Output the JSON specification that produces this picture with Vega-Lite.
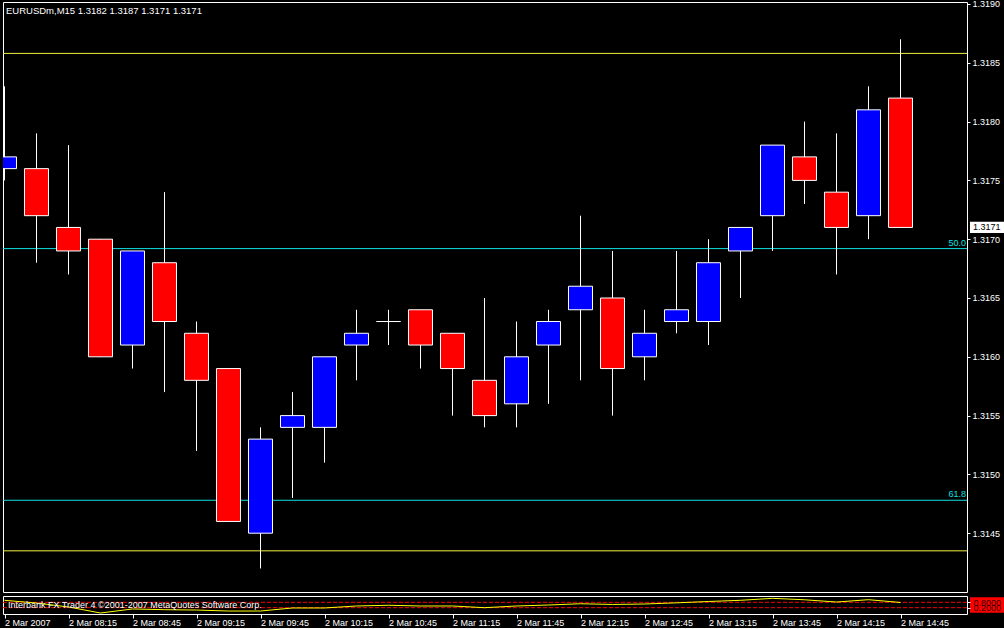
{
  "$schema": "https://vega.github.io/schema/vega-lite/v6.json",
  "background": "#000000",
  "padding": {"left": 2, "top": -1, "right": 0, "bottom": 0},
  "autosize": {"type": "pad"},
  "config": {
    "view": {"stroke": "#ffffff", "strokeWidth": 1},
    "font": "Liberation Sans",
    "axis": {"domain": false, "grid": false, "labelColor": "#ffffff", "tickColor": "#ffffff", "labelFont": "Liberation Sans", "labelFontSize": 9, "title": null},
    "concat": {"spacing": 2}
  },
  "datasets": {
    "candles": [
      {"time": "2007-03-02T07:45:00Z", "open": 1.3176, "high": 1.3183, "low": 1.3175, "close": 1.3177, "osc": 1.02},
      {"time": "2007-03-02T08:00:00Z", "open": 1.3176, "high": 1.3179, "low": 1.3168, "close": 1.3172, "osc": 0.72},
      {"time": "2007-03-02T08:15:00Z", "open": 1.3171, "high": 1.3178, "low": 1.3167, "close": 1.3169, "osc": 0.28},
      {"time": "2007-03-02T08:30:00Z", "open": 1.3170, "high": 1.3170, "low": 1.3160, "close": 1.3160, "osc": -0.39},
      {"time": "2007-03-02T08:45:00Z", "open": 1.3161, "high": 1.3169, "low": 1.3159, "close": 1.3169, "osc": 0.06},
      {"time": "2007-03-02T09:00:00Z", "open": 1.3168, "high": 1.3174, "low": 1.3157, "close": 1.3163, "osc": -0.02},
      {"time": "2007-03-02T09:15:00Z", "open": 1.3162, "high": 1.3163, "low": 1.3152, "close": 1.3158, "osc": -0.06},
      {"time": "2007-03-02T09:30:00Z", "open": 1.3159, "high": 1.3159, "low": 1.3146, "close": 1.3146, "osc": -0.17},
      {"time": "2007-03-02T09:45:00Z", "open": 1.3145, "high": 1.3154, "low": 1.3142, "close": 1.3153, "osc": -0.17},
      {"time": "2007-03-02T10:00:00Z", "open": 1.3154, "high": 1.3157, "low": 1.3148, "close": 1.3155, "osc": 0.17},
      {"time": "2007-03-02T10:15:00Z", "open": 1.3154, "high": 1.3160, "low": 1.3151, "close": 1.3160, "osc": 0.17},
      {"time": "2007-03-02T10:30:00Z", "open": 1.3161, "high": 1.3164, "low": 1.3158, "close": 1.3162, "osc": 0.39},
      {"time": "2007-03-02T10:45:00Z", "open": 1.3163, "high": 1.3164, "low": 1.3161, "close": 1.3163, "osc": 0.47},
      {"time": "2007-03-02T11:00:00Z", "open": 1.3164, "high": 1.3164, "low": 1.3159, "close": 1.3161, "osc": 0.39},
      {"time": "2007-03-02T11:15:00Z", "open": 1.3162, "high": 1.3162, "low": 1.3155, "close": 1.3159, "osc": 0.39},
      {"time": "2007-03-02T11:30:00Z", "open": 1.3158, "high": 1.3165, "low": 1.3154, "close": 1.3155, "osc": 0.20},
      {"time": "2007-03-02T11:45:00Z", "open": 1.3156, "high": 1.3163, "low": 1.3154, "close": 1.3160, "osc": 0.39},
      {"time": "2007-03-02T12:00:00Z", "open": 1.3161, "high": 1.3164, "low": 1.3156, "close": 1.3163, "osc": 0.50},
      {"time": "2007-03-02T12:15:00Z", "open": 1.3164, "high": 1.3172, "low": 1.3158, "close": 1.3166, "osc": 0.64},
      {"time": "2007-03-02T12:30:00Z", "open": 1.3165, "high": 1.3169, "low": 1.3155, "close": 1.3159, "osc": 0.56},
      {"time": "2007-03-02T12:45:00Z", "open": 1.3160, "high": 1.3164, "low": 1.3158, "close": 1.3162, "osc": 0.61},
      {"time": "2007-03-02T13:00:00Z", "open": 1.3163, "high": 1.3169, "low": 1.3162, "close": 1.3164, "osc": 0.74},
      {"time": "2007-03-02T13:15:00Z", "open": 1.3163, "high": 1.3170, "low": 1.3161, "close": 1.3168, "osc": 0.89},
      {"time": "2007-03-02T13:30:00Z", "open": 1.3169, "high": 1.3171, "low": 1.3165, "close": 1.3171, "osc": 1.02},
      {"time": "2007-03-02T13:45:00Z", "open": 1.3172, "high": 1.3178, "low": 1.3169, "close": 1.3178, "osc": 1.24},
      {"time": "2007-03-02T14:00:00Z", "open": 1.3177, "high": 1.3180, "low": 1.3173, "close": 1.3175, "osc": 1.08},
      {"time": "2007-03-02T14:15:00Z", "open": 1.3174, "high": 1.3179, "low": 1.3167, "close": 1.3171, "osc": 0.83},
      {"time": "2007-03-02T14:30:00Z", "open": 1.3172, "high": 1.3183, "low": 1.3170, "close": 1.3181, "osc": 1.09},
      {"time": "2007-03-02T14:45:00Z", "open": 1.3182, "high": 1.3187, "low": 1.3171, "close": 1.3171, "osc": 0.78}
    ]
  },
  "vconcat": [
    {
      "width": 964,
      "height": 590,
      "layer": [
        {
          "data": {"values": [{"level": 1.31858}, {"level": 1.31435}]},
          "mark": {"type": "rule", "color": "#f0f040", "strokeWidth": 1},
          "encoding": {
            "y": {"field": "level", "type": "quantitative", "scale": {"domain": [1.314, 1.319017], "nice": false, "zero": false, "padding": 0},
                  "axis": {"orient": "right", "values": [1.3145, 1.315, 1.3155, 1.316, 1.3165, 1.317, 1.3175, 1.318, 1.3185, 1.319], "format": ".4f", "tickSize": 3, "labelPadding": 2, "labelOverlap": false, "title": null}}
          }
        },
        {
          "data": {"values": [{"level": 1.31692, "label": "50.0"}, {"level": 1.31478, "label": "61.8"}]},
          "layer": [
            {"mark": {"type": "rule", "color": "#10e0e0", "strokeWidth": 1},
             "encoding": {"y": {"field": "level", "type": "quantitative"}}},
            {"mark": {"type": "text", "color": "#10e0e0", "align": "right", "baseline": "middle", "fontSize": 9, "dy": -6, "dx": -1},
             "encoding": {"x": {"value": "width"}, "y": {"field": "level", "type": "quantitative"}, "text": {"field": "label"}}}
          ]
        },
        {
          "data": {"name": "candles"},
          "mark": {"type": "rule", "color": "#ffffff", "strokeWidth": 1, "clip": true},
          "encoding": {
            "x": {"field": "time", "type": "temporal", "axis": null,
                  "scale": {"type": "utc", "padding": 0, "nice": false, "domain": [{"year": 2007, "month": 3, "date": 2, "hours": 7, "minutes": 44, "seconds": 17, "milliseconds": 812, "utc": true}, {"year": 2007, "month": 3, "date": 2, "hours": 15, "minutes": 16, "seconds": 10, "milliseconds": 312, "utc": true}]}},
            "y": {"field": "low", "type": "quantitative"},
            "y2": {"field": "high"}
          }
        },
        {
          "data": {"name": "candles"},
          "mark": {"type": "bar", "width": 24, "stroke": "#ffffff", "strokeWidth": 1, "clip": true},
          "encoding": {
            "x": {"field": "time", "type": "temporal", "axis": null},
            "y": {"field": "open", "type": "quantitative"},
            "y2": {"field": "close"},
            "fill": {"condition": {"test": "datum.close > datum.open", "value": "#0000ff"}, "value": "#ff0000"}
          }
        },
        {
          "data": {"values": [{"label": "EURUSDm,M15  1.3182 1.3187 1.3171 1.3171", "level": 1.31894}]},
          "mark": {"type": "text", "color": "#ffffff", "align": "left", "baseline": "middle", "fontSize": 9.5, "dx": 3},
          "encoding": {"x": {"value": 0}, "y": {"field": "level", "type": "quantitative"}, "text": {"field": "label"}}
        },
        {
          "data": {"values": [{"price": 1.3171, "label": "1.3171"}]},
          "layer": [
            {"mark": {"type": "point", "shape": "M0.176,-0.33H2.176V0.33H0.176Z", "size": 1156, "filled": true, "color": "#ffffff", "opacity": 1, "strokeWidth": 0},
             "encoding": {"x": {"value": "width"}, "y": {"field": "price", "type": "quantitative"}}},
            {"mark": {"type": "text", "color": "#000000", "align": "left", "baseline": "middle", "fontSize": 9, "dx": 6},
             "encoding": {"x": {"value": "width"}, "y": {"field": "price", "type": "quantitative"}, "text": {"field": "label"}}}
          ]
        }
      ]
    },
    {
      "width": 964,
      "height": 18,
      "layer": [
        {
          "data": {"values": [{"lvl": 0.8}, {"lvl": 0.2}]},
          "mark": {"type": "rule", "color": "#ff0000", "strokeWidth": 1, "strokeDash": [4, 2]},
          "encoding": {
            "y": {"field": "lvl", "type": "quantitative", "scale": {"domain": [-0.5, 1.5], "nice": false, "zero": false},
                  "axis": {"orient": "right", "values": [0.2, 0.8], "format": ".4f", "labelColor": "#300000", "zindex": 1, "labelOverlap": false, "tickSize": 3, "labelPadding": 3, "title": null}}
          }
        },
        {
          "data": {"name": "candles"},
          "mark": {"type": "line", "color": "#ffff00", "strokeWidth": 1, "clip": true},
          "encoding": {
            "x": {"field": "time", "type": "temporal",
                  "scale": {"type": "utc", "padding": 0, "nice": false, "domain": [{"year": 2007, "month": 3, "date": 2, "hours": 7, "minutes": 44, "seconds": 17, "milliseconds": 812, "utc": true}, {"year": 2007, "month": 3, "date": 2, "hours": 15, "minutes": 16, "seconds": 10, "milliseconds": 312, "utc": true}]},
                  "axis": {"values": [
                    {"year": 2007, "month": 3, "date": 2, "hours": 7, "minutes": 45, "utc": true},
                    {"year": 2007, "month": 3, "date": 2, "hours": 8, "minutes": 15, "utc": true},
                    {"year": 2007, "month": 3, "date": 2, "hours": 8, "minutes": 45, "utc": true},
                    {"year": 2007, "month": 3, "date": 2, "hours": 9, "minutes": 15, "utc": true},
                    {"year": 2007, "month": 3, "date": 2, "hours": 9, "minutes": 45, "utc": true},
                    {"year": 2007, "month": 3, "date": 2, "hours": 10, "minutes": 15, "utc": true},
                    {"year": 2007, "month": 3, "date": 2, "hours": 10, "minutes": 45, "utc": true},
                    {"year": 2007, "month": 3, "date": 2, "hours": 11, "minutes": 15, "utc": true},
                    {"year": 2007, "month": 3, "date": 2, "hours": 11, "minutes": 45, "utc": true},
                    {"year": 2007, "month": 3, "date": 2, "hours": 12, "minutes": 15, "utc": true},
                    {"year": 2007, "month": 3, "date": 2, "hours": 12, "minutes": 45, "utc": true},
                    {"year": 2007, "month": 3, "date": 2, "hours": 13, "minutes": 15, "utc": true},
                    {"year": 2007, "month": 3, "date": 2, "hours": 13, "minutes": 45, "utc": true},
                    {"year": 2007, "month": 3, "date": 2, "hours": 14, "minutes": 15, "utc": true},
                    {"year": 2007, "month": 3, "date": 2, "hours": 14, "minutes": 45, "utc": true}
                  ],
                  "labelExpr": "datum.index == 0 ? '2 Mar 2007' : utcFormat(datum.value, '%-d %b %H:%M')",
                  "labelAlign": "left", "labelBaseline": "top", "labelFlush": false, "labelOverlap": false, "tickSize": 4, "labelPadding": 0, "title": null}},
            "y": {"field": "osc", "type": "quantitative"}
          }
        },
        {
          "data": {"values": [{"mid": 0.5}]},
          "mark": {"type": "point", "shape": "M0.176,-0.46H2.176V0.46H0.176Z", "size": 1156, "filled": true, "color": "#ff0000", "opacity": 1, "strokeWidth": 0},
          "encoding": {"x": {"value": "width"}, "y": {"field": "mid", "type": "quantitative"}}
        },
        {
          "data": {"values": [{"label": "Interbank FX Trader 4 ©2001-2007 MetaQuotes Software Corp.", "mid": 0.5}]},
          "mark": {"type": "text", "color": "#ffffff", "align": "left", "baseline": "middle", "fontSize": 9, "dx": 5},
          "encoding": {"x": {"value": 0}, "y": {"field": "mid", "type": "quantitative"}, "text": {"field": "label"}}
        }
      ]
    }
  ]
}
